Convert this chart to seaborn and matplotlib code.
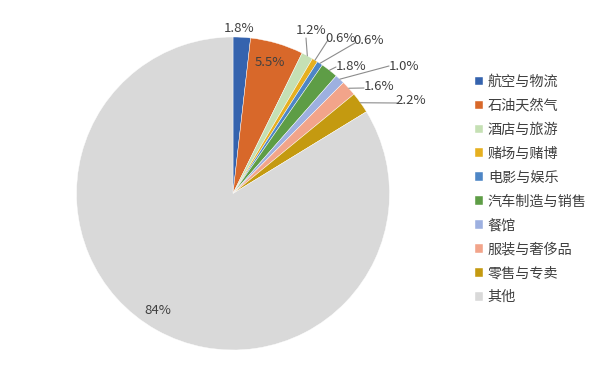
import matplotlib
matplotlib.use("Agg")

import matplotlib.pyplot as plt
import numpy as np
import seaborn as sns

categories = ["航空与物流", "石油天然气", "酒店与旅游", "赌场与赌博", "电影与娱乐",
              "汽车制造与销售", "餐馆", "服装与奢侈品", "零售与专卖", "其他"]
shares = [1.8, 5.5, 1.2, 0.6, 0.6, 1.8, 1.0, 1.6, 2.2, 84]
pct_labels = ["1.8%", "5.5%", "1.2%", "0.6%", "0.6%", "1.8%", "1.0%", "1.6%", "2.2%", "84%"]

colors = ["#3563AE", "#D8682A", "#C5E0B4", "#E6B020", "#4E86C6",
          "#5E9D46", "#9DB0E0", "#F2A48A", "#C49A10", "#D9D9D9"]

# layout in pixels of the 600x386 canvas
CX, CY, R = 233, 193.5, 156.5
label_px = [(239, 28), (270, 62), (311, 30), (341, 39), (369, 40),
            (351, 67), (404, 67), (379, 87), (411, 101), (158, 311)]
# leader line end points (None = no leader)
leader_px = [None, None, (306, 38), (328, 40), (355, 43),
             (336, 67), (389, 66), (364, 88), (397, 103), None]

W, H = 600, 386


def to_xy(px, py):
    return (px - CX) / R, (CY - py) / R


def main():
    sns.set_theme(style="white")
    plt.rcParams["font.family"] = ["Noto Sans CJK SC", "DejaVu Sans"]

    fig = plt.figure(figsize=(W / 100, H / 100), dpi=100)
    ax = fig.add_axes([(CX - R) / W, (H - CY - R) / H, 2 * R / W, 2 * R / H])

    palette = sns.color_palette(colors)
    wedges, _ = ax.pie(
        shares,
        colors=palette,
        startangle=90,
        counterclock=False,
        wedgeprops=dict(edgecolor="white", linewidth=0.3),
    )
    ax.set_xlim(-1, 1)
    ax.set_ylim(-1, 1)
    ax.set_aspect("equal")
    ax.axis("off")

    for w, lab, pos, lead in zip(wedges, pct_labels, label_px, leader_px):
        x, y = to_xy(*pos)
        ax.text(x, y, lab, ha="center", va="center", fontsize=9.5,
                color="#404040", clip_on=False)
        if lead is not None:
            ang = np.deg2rad((w.theta1 + w.theta2) / 2)
            lx, ly = to_xy(*lead)
            ax.plot([np.cos(ang), lx], [np.sin(ang), ly], color="#8C8C8C",
                    lw=0.8, clip_on=False)

    fig.legend(
        wedges,
        categories,
        loc="upper left",
        bbox_to_anchor=(475 / W, 1 - 75 / H),
        frameon=False,
        fontsize=10.2,
        handlelength=0.55,
        handleheight=0.55,
        handletextpad=0.35,
        labelspacing=0.7,
        borderpad=0,
        borderaxespad=0,
        labelcolor="#404040",
    )

    fig.savefig("out.png", dpi=100)
    plt.close(fig)


if __name__ == "__main__":
    main()
